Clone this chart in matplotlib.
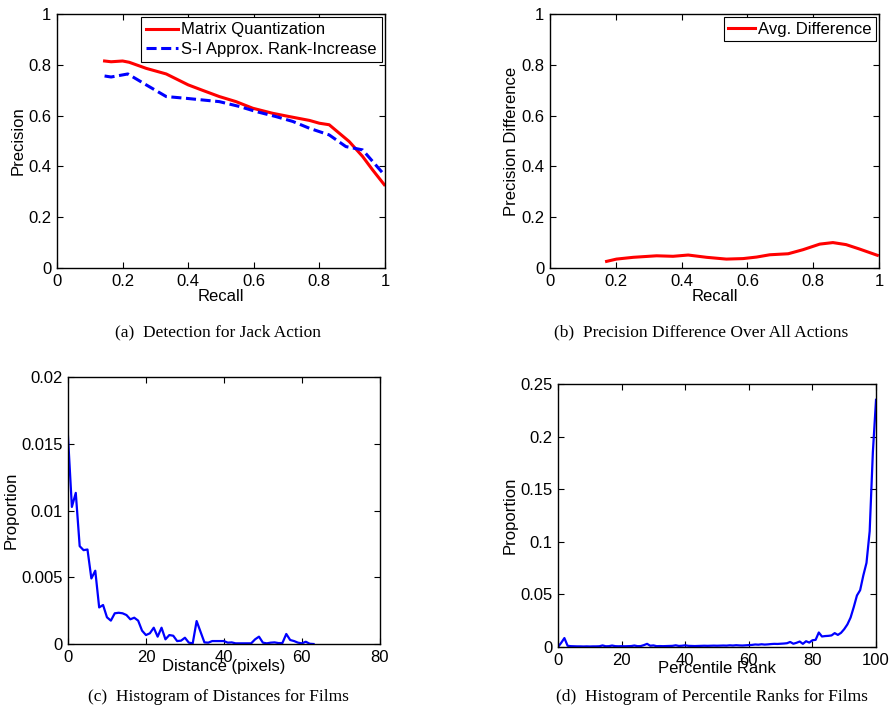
import matplotlib
matplotlib.use("Agg")
import matplotlib.pyplot as plt

plt.rcParams['font.family'] = ['Liberation Sans', 'DejaVu Sans']
plt.rcParams['font.size'] = 12

# (a) precision/recall for the jack action
mq_recall = [0.145, 0.165, 0.20, 0.22, 0.272, 0.333, 0.40, 0.445, 0.495, 0.546,
             0.597, 0.658, 0.709, 0.77, 0.80, 0.83, 0.891, 0.932, 0.962, 0.998]
mq_prec = [0.815, 0.812, 0.815, 0.81, 0.786, 0.764, 0.721, 0.699, 0.675, 0.655,
           0.629, 0.609, 0.596, 0.581, 0.570, 0.564, 0.498, 0.439, 0.387, 0.328]
si_recall = [0.145, 0.165, 0.216, 0.272, 0.333, 0.394, 0.495, 0.556, 0.607,
             0.668, 0.719, 0.77, 0.83, 0.881, 0.932, 0.967, 0.998]
si_prec = [0.756, 0.752, 0.764, 0.721, 0.675, 0.668, 0.655, 0.636, 0.616,
           0.596, 0.577, 0.550, 0.524, 0.478, 0.465, 0.413, 0.367]

# (b) average precision difference
diff_recall = [0.172, 0.202, 0.253, 0.324, 0.374, 0.42, 0.476, 0.536, 0.587,
               0.628, 0.668, 0.724, 0.769, 0.82, 0.86, 0.90, 0.94, 0.995]
diff_val = [0.026, 0.035, 0.042, 0.048, 0.046, 0.051, 0.042, 0.035, 0.037,
            0.043, 0.052, 0.056, 0.072, 0.094, 0.100, 0.092, 0.075, 0.050]

# (c) histogram of distances
dist = list(range(64))
dist_prop = [0.01556, 0.01027, 0.01132, 0.00733, 0.00703, 0.00708, 0.00491, 0.00549,
             0.00274, 0.00292, 0.00200, 0.00175, 0.00230, 0.00234, 0.00230, 0.00217,
             0.00185, 0.00197, 0.00175, 0.00100, 0.00067, 0.00080, 0.00122, 0.00055,
             0.00122, 0.00035, 0.00067, 0.00062, 0.00022, 0.00025, 0.00047, 0.00010,
             0.00005, 0.00172, 0.00092, 0.00012, 0.00010, 0.00022, 0.00022, 0.00022,
             0.00022, 0.00010, 0.00012, 0.00005, 0.00005, 0.00005, 0.00005, 0.00005,
             0.00035, 0.00055, 0.00010, 0.00005, 0.00010, 0.00012, 0.00007, 0.00007,
             0.00075, 0.00030, 0.00022, 0.00010, 0.00005, 0.00017, 0.00002, 0.0]

# (d) histogram of percentile ranks
rank = list(range(101))
rank_prop = [0.0, 0.004, 0.0085, 0.0012, 0.0008, 0.0007, 0.0006, 0.0006, 0.0005, 0.0006,
             0.0005, 0.0006, 0.0006, 0.0007, 0.0015, 0.0007, 0.0008, 0.0014, 0.0008, 0.0007,
             0.0008, 0.0007, 0.0008, 0.0009, 0.0014, 0.0008, 0.0009, 0.0018, 0.0030, 0.0012,
             0.0015, 0.0008, 0.0009, 0.0008, 0.0009, 0.0010, 0.0011, 0.0016, 0.0010, 0.0012,
             0.0016, 0.0011, 0.0010, 0.0009, 0.0010, 0.0011, 0.0012, 0.0011, 0.0012, 0.0013,
             0.0012, 0.0013, 0.0014, 0.0013, 0.0016, 0.0014, 0.0017, 0.0015, 0.0014, 0.0016,
             0.0018, 0.0020, 0.0024, 0.0022, 0.0026, 0.0023, 0.0025, 0.0028, 0.0030, 0.0029,
             0.0031, 0.0033, 0.0036, 0.0048, 0.0031, 0.0040, 0.0052, 0.0030, 0.0055, 0.0042,
             0.0064, 0.0068, 0.0138, 0.0100, 0.0104, 0.0106, 0.0110, 0.0132, 0.0115, 0.0135,
             0.0170, 0.0215, 0.0280, 0.0380, 0.0490, 0.0540, 0.0680, 0.0800, 0.1100, 0.1850,
             0.2350]

unit_ticks = [0, 0.2, 0.4, 0.6, 0.8, 1]
unit_labels = ['0', '0.2', '0.4', '0.6', '0.8', '1']
dist_ticks = [0, 20, 40, 60, 80]
dist_yticks = [0, 0.005, 0.01, 0.015, 0.02]
dist_ylabels = ['0', '0.005', '0.01', '0.015', '0.02']
rank_ticks = [0, 20, 40, 60, 80, 100]
rank_yticks = [0, 0.05, 0.1, 0.15, 0.2, 0.25]
rank_ylabels = ['0', '0.05', '0.1', '0.15', '0.2', '0.25']

captions = ['(a)  Detection for Jack Action',
            '(b)  Precision Difference Over All Actions',
            '(c)  Histogram of Distances for Films',
            '(d)  Histogram of Percentile Ranks for Films']


def matlab_axes(ax):
    ax.tick_params(direction='in', top=True, right=True, length=4, width=0.8,
                   labelsize=12, pad=4)
    for s in ax.spines.values():
        s.set_linewidth(1.0)


fig = plt.figure(figsize=(8.91, 7.15), dpi=100)

ax1 = fig.add_axes([0.064, 0.6252, 0.368, 0.3552])
ax1.plot(mq_recall, mq_prec, color='red', lw=2.2, label='Matrix Quantization')
ax1.plot(si_recall, si_prec, color='blue', lw=2.2, dashes=(3.3, 1.5),
         label='S-I Approx. Rank-Increase')
ax1.set_xlim(0, 1)
ax1.set_ylim(0, 1)
ax1.set_xticks(unit_ticks, unit_labels)
ax1.set_yticks(unit_ticks, unit_labels)
ax1.set_xlabel('Recall', labelpad=0)
ax1.set_ylabel('Precision', labelpad=2)
matlab_axes(ax1)
leg = ax1.legend(loc='upper right', fontsize=12, fancybox=False, framealpha=1,
                 edgecolor='black', handlelength=1.9, handletextpad=0.2,
                 borderpad=0.3, labelspacing=0.25, borderaxespad=0.2)
leg.get_frame().set_linewidth(0.8)

ax2 = fig.add_axes([0.6173, 0.6252, 0.3692, 0.3552])
ax2.plot(diff_recall, diff_val, color='red', lw=2.2, label='Avg. Difference')
ax2.set_xlim(0, 1)
ax2.set_ylim(0, 1)
ax2.set_xticks(unit_ticks, unit_labels)
ax2.set_yticks(unit_ticks, unit_labels)
ax2.set_xlabel('Recall', labelpad=0)
ax2.set_ylabel('Precision Difference', labelpad=2)
matlab_axes(ax2)
leg = ax2.legend(loc='upper right', fontsize=12, fancybox=False, framealpha=1,
                 edgecolor='black', handlelength=1.6, handletextpad=0.2,
                 borderpad=0.25, borderaxespad=0.2)
leg.get_frame().set_linewidth(0.8)

ax3 = fig.add_axes([0.0763, 0.0993, 0.350, 0.3734])
ax3.plot(dist, dist_prop, color='blue', lw=1.6)
ax3.set_xlim(0, 80)
ax3.set_ylim(0, 0.02)
ax3.set_xticks(dist_ticks)
ax3.set_yticks(dist_yticks, dist_ylabels)
ax3.set_xlabel('Distance (pixels)', labelpad=-4)
ax3.set_ylabel('Proportion', labelpad=2)
matlab_axes(ax3)

ax4 = fig.add_axes([0.6263, 0.0951, 0.3569, 0.3678])
ax4.plot(rank, rank_prop, color='blue', lw=1.6)
ax4.set_xlim(0, 100)
ax4.set_ylim(0, 0.25)
ax4.set_xticks(rank_ticks)
ax4.set_yticks(rank_yticks, rank_ylabels)
ax4.set_xlabel('Percentile Rank', labelpad=-5)
ax4.set_ylabel('Proportion', labelpad=2)
matlab_axes(ax4)

cap_pos = [(218, 332), (701, 332), (218, 697), (712, 697)]
for (cx, cy), txt in zip(cap_pos, captions):
    fig.text(cx / 891, 1 - cy / 715, txt, ha='center', va='center',
             fontsize=12.5, family=['Liberation Serif', 'DejaVu Serif'])

fig.savefig('out.png', dpi=100)
